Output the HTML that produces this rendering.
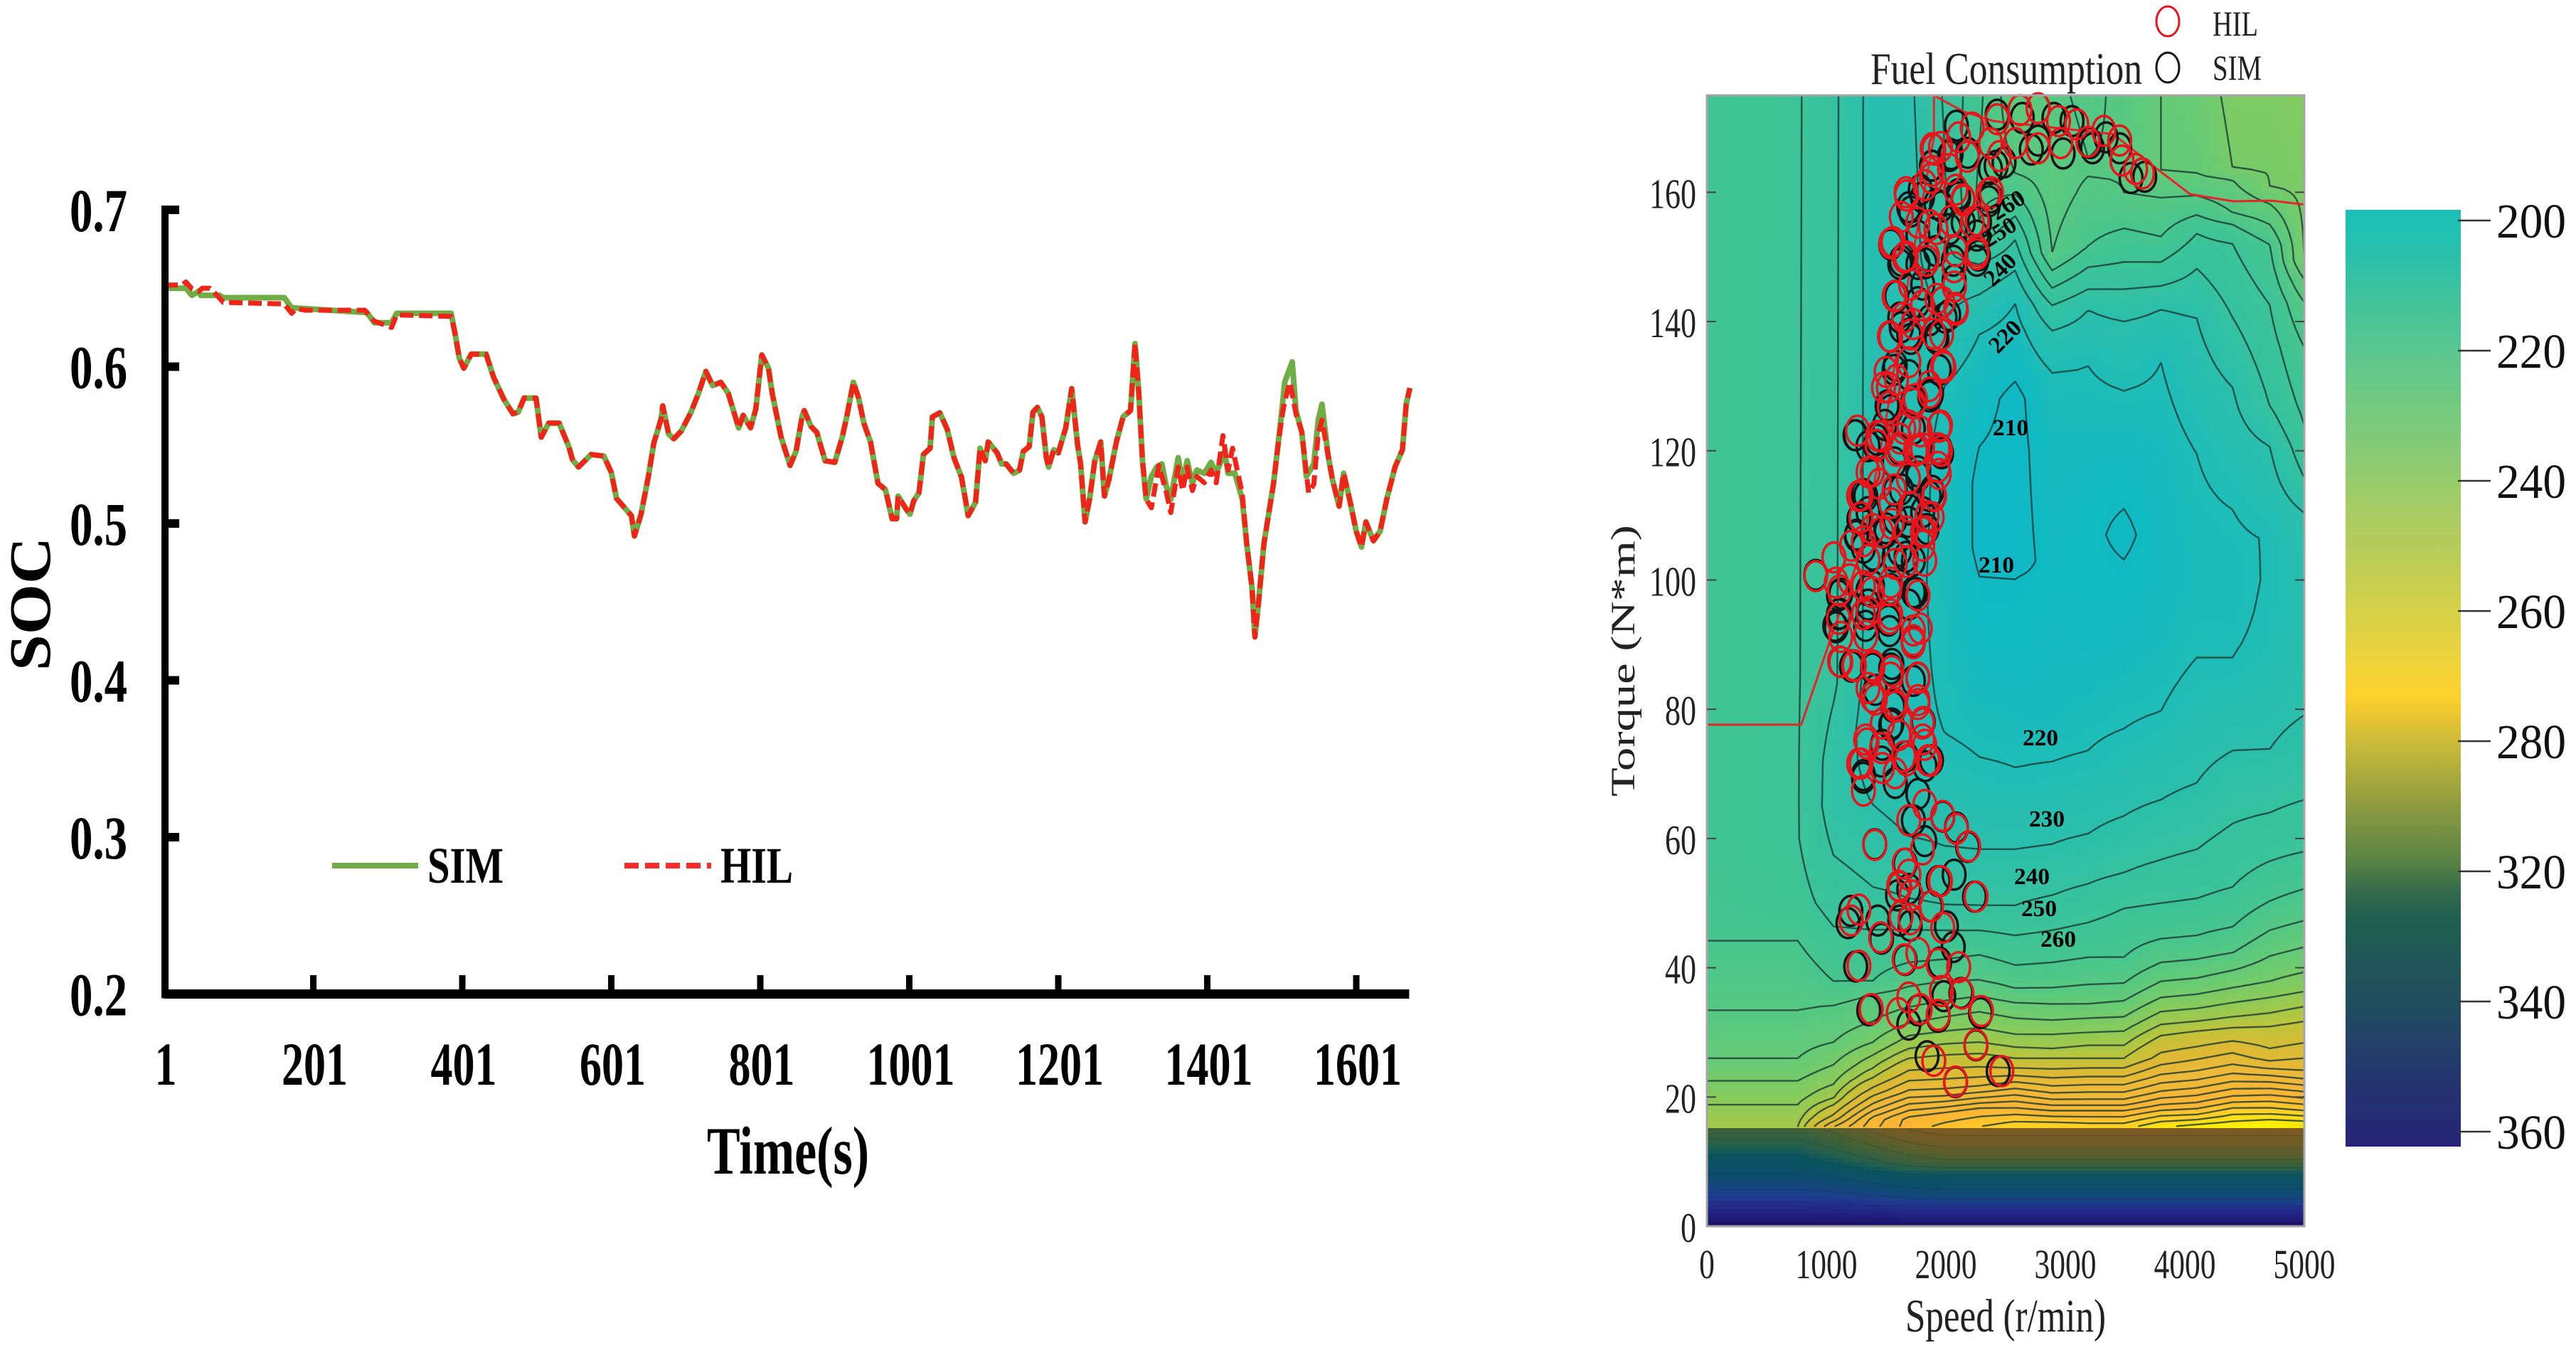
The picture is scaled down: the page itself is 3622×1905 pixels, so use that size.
<!DOCTYPE html>
<html lang="en">
<head>
<meta charset="utf-8">
<title>SOC and Fuel Consumption comparison</title>
<style>
html,body{margin:0;padding:0;background:#fff;}
svg{display:block;}
text{font-family:"Liberation Serif",serif;}
</style>
</head>
<body>
<svg id="root" xmlns="http://www.w3.org/2000/svg" width="3622" height="1905" viewBox="0 0 3622 1905">
  <rect x="0" y="0" width="3622" height="1905" fill="#ffffff"/>
  <defs>
    <clipPath id="plotClip"><rect x="2400" y="134" width="840" height="1590"/></clipPath>
    <linearGradient id="barGradient" gradientUnits="userSpaceOnUse" x1="0" y1="295" x2="0" y2="1612">
      <stop offset="0" stop-color="#1ABFB8"/><stop offset="0.055" stop-color="#2CC0AA"/>
      <stop offset="0.089" stop-color="#3EC39D"/><stop offset="0.140" stop-color="#55C592"/>
      <stop offset="0.190" stop-color="#6CC985"/><stop offset="0.259" stop-color="#88CB74"/>
      <stop offset="0.326" stop-color="#A9CC62"/><stop offset="0.380" stop-color="#BFCD55"/>
      <stop offset="0.459" stop-color="#E3D341"/><stop offset="0.498" stop-color="#F5D336"/>
      <stop offset="0.517" stop-color="#FFD22E"/><stop offset="0.537" stop-color="#EDC830"/>
      <stop offset="0.575" stop-color="#C4B83A"/><stop offset="0.634" stop-color="#8F9C40"/>
      <stop offset="0.692" stop-color="#5C8545"/><stop offset="0.730" stop-color="#33694C"/>
      <stop offset="0.758" stop-color="#1F5E50"/><stop offset="0.847" stop-color="#204E5E"/>
      <stop offset="0.906" stop-color="#233B6B"/><stop offset="1" stop-color="#262478"/>
    </linearGradient>
  </defs>

  <g id="socChart">
    <g id="socLines"></g>
    <g id="socAxes"></g>
    <text x="0" y="0" transform="translate(70,849) rotate(-90)" text-anchor="middle" font-size="83" font-weight="bold" textLength="188" lengthAdjust="spacingAndGlyphs">SOC</text>
    <text x="1108" y="1650" text-anchor="middle" font-size="95" font-weight="bold" textLength="228" lengthAdjust="spacingAndGlyphs">Time(s)</text>
    <line x1="467" y1="1217" x2="588" y2="1217" stroke="#70AD47" stroke-width="8"/>
    <text x="601" y="1241" font-size="72" font-weight="bold" textLength="107" lengthAdjust="spacingAndGlyphs">SIM</text>
    <line x1="878" y1="1217" x2="1000" y2="1217" stroke="#FF2A2A" stroke-width="8" stroke-dasharray="20 9"/>
    <text x="1013" y="1241" font-size="72" font-weight="bold" textLength="102" lengthAdjust="spacingAndGlyphs">HIL</text>
  </g>

  <g id="fuelChart">
    <g id="heatCells" shape-rendering="crispEdges" clip-path="url(#plotClip)"></g>
    <g id="contours" clip-path="url(#plotClip)" fill="none"></g>
    <path id="torqueLimit" fill="none" stroke="#E5252A" stroke-width="3" clip-path="url(#plotClip)"/>
    <g id="simPoints" fill="none" stroke="#141414" stroke-width="3.5"></g>
    <g id="hilPoints" fill="none" stroke="#E8141C" stroke-width="3.5"></g>
    <g id="contourLabels" font-size="33" font-weight="bold" fill="#000" text-anchor="middle">
      <text x="2827" y="612" textLength="50" lengthAdjust="spacingAndGlyphs">210</text>
      <text x="2807" y="805" textLength="50" lengthAdjust="spacingAndGlyphs">210</text>
      <text x="2869" y="1048" textLength="50" lengthAdjust="spacingAndGlyphs">220</text>
      <text x="2878" y="1162" textLength="50" lengthAdjust="spacingAndGlyphs">230</text>
      <text x="2857" y="1243" textLength="50" lengthAdjust="spacingAndGlyphs">240</text>
      <text x="2867" y="1288" textLength="50" lengthAdjust="spacingAndGlyphs">250</text>
      <text x="2894" y="1331" textLength="50" lengthAdjust="spacingAndGlyphs">260</text>
      <text transform="translate(2819,473) rotate(-45)" y="11" textLength="50" lengthAdjust="spacingAndGlyphs">220</text>
      <text transform="translate(2812,379) rotate(-45)" y="11" textLength="50" lengthAdjust="spacingAndGlyphs">240</text>
      <text transform="translate(2811,326) rotate(-32)" y="11" textLength="50" lengthAdjust="spacingAndGlyphs">250</text>
      <text transform="translate(2823,288) rotate(-32)" y="11" textLength="50" lengthAdjust="spacingAndGlyphs">260</text>
    </g>
    <rect x="2400" y="134" width="840" height="1590" fill="none" stroke="#A6A6A6" stroke-width="3"/>
    <g id="fuelAxes"></g>
    <text x="2820" y="1872" text-anchor="middle" font-size="66" fill="#222" textLength="282" lengthAdjust="spacingAndGlyphs">Speed (r/min)</text>
    <text transform="translate(2298,929) rotate(-90)" text-anchor="middle" font-size="48" fill="#222" textLength="382" lengthAdjust="spacingAndGlyphs">Torque (N*m)</text>
    <text x="2630" y="118" font-size="64" fill="#222" textLength="382" lengthAdjust="spacingAndGlyphs">Fuel Consumption</text>
    <ellipse cx="3048" cy="30" rx="16" ry="21" fill="none" stroke="#E8141C" stroke-width="3"/>
    <text x="3111" y="50" font-size="50" fill="#222" textLength="64" lengthAdjust="spacingAndGlyphs">HIL</text>
    <ellipse cx="3048" cy="95" rx="16" ry="21" fill="none" stroke="#141414" stroke-width="3"/>
    <text x="3111" y="112" font-size="50" fill="#222" textLength="69" lengthAdjust="spacingAndGlyphs">SIM</text>
    <rect x="3298" y="295" width="162" height="1317" fill="url(#barGradient)"/>
    <g id="barAxis"></g>
  </g>
</svg>

<script>
// ---------- SOC chart data ----------
const socTickValues = [0.7, 0.6, 0.5, 0.4, 0.3, 0.2];
const socTickLabels = ["0.7", "0.6", "0.5", "0.4", "0.3", "0.2"];
const timeTickValues = [1, 201, 401, 601, 801, 1001, 1201, 1401, 1601];

const simTime = [
  1,30,38,47,50,75,80,162,172,273,
  283,306,313,386,391,397,403,413,433,443,
  457,469,476,484,500,507,517,531,544,549,
  557,574,591,601,608,628,632,641,651,658,
  668,670,678,685,695,708,718,728,737,748,
  758,772,778,788,795,803,812,817,829,841,
  849,857,860,869,877,888,901,911,917,926,
  933,940,949,959,969,978,984,986,997,1002,
  1007,1014,1020,1029,1032,1042,1052,1061,1071,1077,
  1080,1090,1096,1103,1107,1119,1125,1131,1141,1149,
  1154,1162,1167,1173,1179,1185,1188,1195,1201,1211,
  1219,1227,1231,1237,1243,1250,1258,1263,1269,1279,
  1288,1298,1304,1309,1314,1319,1326,1333,1340,1346,
  1352,1362,1368,1374,1381,1387,1397,1406,1413,1424,
  1429,1438,1448,1454,1461,1465,1470,1477,1483,1490,
  1496,1502,1505,1515,1520,1528,1534,1544,1550,1555,
  1563,1569,1578,1584,1592,1601,1608,1614,1624,1633,
  1642,1653,1663,1668,1673];
const simSoc = [
  .650,.650,.6455,.648,.6455,.6455,.644,.644,.6375,.6345,
  .628,.628,.634,.634,.622,.6055,.599,.608,.608,.5933,
  .579,.570,.571,.580,.580,.555,.564,.564,.549,.5407,
  .536,.544,.543,.5326,.516,.505,.492,.506,.5305,.551,
  .567,.575,.557,.554,.559,.571,.583,.597,.588,.590,
  .583,.561,.569,.561,.573,.6075,.599,.583,.555,.537,
  .546,.568,.572,.562,.558,.540,.539,.555,.568,.590,
  .580,.564,.552,.5256,.5216,.503,.503,.5175,.509,.506,
  .5145,.5196,.544,.548,.568,.5706,.560,.5418,.5297,.5135,
  .505,.5135,.548,.540,.552,.545,.538,.538,.532,.534,
  .546,.549,.571,.574,.568,.542,.536,.547,.545,.561,
  .586,.550,.538,.501,.5155,.540,.552,.5175,.528,.552,
  .568,.572,.6147,.584,.540,.5155,.530,.536,.538,.5236,
  .5155,.542,.5256,.540,.5256,.534,.532,.539,.532,.546,
  .532,.532,.5155,.487,.459,.428,.4507,.487,.505,.5256,
  .550,.576,.590,.603,.572,.558,.530,.538,.566,.576,
  .544,.528,.511,.532,.5155,.495,.485,.501,.489,.495,
  .5155,.536,.547,.576,.5864];

const hilTime = [
  1,25,30,38,47,52,62,72,80,162,
  172,178,190,270,283,306,313,386,391,397,
  403,413,433,443,457,469,476,484,500,507,
  517,531,544,549,557,574,591,601,608,628,
  632,641,651,658,668,670,678,685,695,708,
  718,728,737,748,758,772,778,788,795,803,
  812,817,829,841,849,857,860,869,877,888,
  901,911,917,926,933,940,949,959,969,978,
  984,986,997,1002,1007,1014,1020,1029,1032,1042,
  1052,1061,1071,1077,1080,1090,1096,1103,1107,1119,
  1125,1131,1141,1149,1154,1162,1167,1173,1179,1185,
  1188,1195,1201,1211,1219,1227,1231,1237,1243,1250,
  1258,1263,1269,1279,1288,1298,1304,1309,1314,1319,
  1326,1336,1346,1352,1362,1368,1374,1381,1387,1397,
  1406,1413,1422,1429,1435,1448,1454,1461,1465,1470,
  1477,1483,1490,1496,1502,1505,1512,1520,1528,1537,
  1544,1550,1555,1563,1569,1578,1584,1592,1601,1608,
  1614,1624,1633,1642,1653,1663,1668,1673];
const hilSoc = [
  .652,.652,.654,.6496,.648,.650,.650,.6455,.641,.640,
  .634,.637,.636,.636,.629,.625,.633,.632,.622,.6055,
  .599,.608,.608,.5933,.579,.570,.571,.580,.580,.555,
  .564,.564,.549,.5407,.536,.544,.543,.5326,.516,.505,
  .492,.506,.5305,.551,.567,.575,.557,.554,.559,.571,
  .583,.597,.588,.590,.583,.561,.569,.561,.573,.6075,
  .599,.583,.555,.537,.546,.568,.572,.562,.558,.540,
  .539,.555,.568,.590,.580,.564,.552,.5256,.5216,.503,
  .503,.5175,.509,.506,.5145,.5196,.544,.548,.568,.5706,
  .560,.5418,.5297,.5135,.505,.5135,.548,.540,.552,.545,
  .538,.538,.532,.534,.546,.549,.571,.574,.568,.542,
  .536,.547,.545,.561,.586,.550,.538,.501,.5155,.540,
  .552,.5175,.528,.552,.568,.572,.6147,.584,.540,.5155,
  .510,.537,.520,.507,.536,.521,.536,.521,.530,.526,
  .534,.526,.556,.534,.548,.519,.487,.459,.4275,.4507,
  .487,.505,.5256,.550,.570,.578,.590,.570,.558,.5196,
  .525,.558,.566,.544,.528,.511,.532,.5155,.495,.485,
  .501,.489,.495,.5155,.536,.547,.576,.5864];

// ---------- Fuel map data: [torque, fuel, torque, fuel, ...] at each speed column ----------
const mapSpeeds = [0,760,1060,1390,1690,1990,2280,2580,2890,3190,3490,3800,4100,4400,4710,5000];
const fuelAt0 = [0,800,3,760,5,730,8,690,10,670,15.25,610,15.4,310,18.8,300,22.5,290,26,280,33.4,270,44.2,260,46,258,60,255,175,255];
const fuelAt760 = [0,800,3,760,5,730,8,690,10,670,15.25,610,15.4,310,18.8,300,22.5,290,26,280,33.4,270,44.2,260,46,258,50,254,60,250.5,175,251];
const fuelAt1060 = [0,800,3,758,5,725,8,680,10,655,15.25,590,15.4,365,16.8,340,18.8,320,19.8,310,22,300,25,290,28.5,280,34.2,270,37.9,260,46.4,250,50,246,57.4,240,65,235,72,235.5,84,241.5,175,242];
const fuelAt1390 = [0,800,3,755,5,715,8,670,10,635,15.25,560,15.4,405,16.6,400,18.6,370,21,340,23,320,24.5,310,26.5,300,28.5,290,31.7,280,35.9,270,38,260,45.9,250,52.5,240,65.2,230,77,224,90,226,175,226];
const fuelAt1690 = [0,800,3,750,5,705,8,660,10,615,15.25,535,15.4,432,16.6,430,18.6,400,20.6,370,23.5,340,26,320,27.5,310,29.5,300,31.4,290,33.9,280,37.1,270,40.8,260,45.9,250,50.7,240,60.3,230,70,223,75,221,100,222,130,224,150,226,175,228];
const fuelAt1990 = [0,800,3,750,5,700,8,660,10,605,15.25,520,15.4,445,17.3,430,19,400,20.8,370,23.8,340,26.5,320,28.2,310,30.2,300,32.4,290,34.9,280,37.9,270,41.3,260,45.8,250,49.7,240,58.8,230,76.3,220,100,218,120,218,130,220,140.6,230,150,238,175,241];
const fuelAt2280 = [0,800,3,750,5,700,8,660,10,605,15.25,520,15.4,455,18,430,19.6,400,21.3,370,24,340,26.7,320,28.5,310,30.7,300,33.2,290,35.6,280,38.1,270,42,260,45.8,250,49.6,240,58.3,230,72.6,220,90,212,100.6,210,105,208,115,208,120.7,210,130,215,138,220,144.2,230,148.9,240,151.4,250,155.3,260,160,262,175,258];
const fuelAt2580 = [0,800,3,750,5,700,8,660,10,605,15.25,520,15.4,465,15.8,460,16.6,450,18,430,20,400,22,370,24,340,26,320,27.7,310,29.7,300,32.2,290,34.6,280,36.8,270,40.4,260,45,250,49.6,240,58.3,230,71,220,85,213,100.3,210,103,207,128,207,130.7,210,142.8,220,147.9,230,152.6,240,156.3,250,159.7,260,162.9,270,175,278];
const fuelAt2890 = [0,800,3,750,5,700,8,660,10,605,15.25,520,15.4,465,15.8,460,17.6,430,19.3,400,21.3,370,23.8,340,26,320,27.5,310,29.7,300,31.9,290,34.4,280,36.9,270,40.8,260,45.8,250,51.2,240,59.1,230,71.9,220,80,215,100,212,120,215,132.1,220,138.6,230,142.5,240,145.2,250,147.9,260,150.6,270,160,275,175,272];
const fuelAt3190 = [0,800,3,750,5,700,8,660,10,605,15.25,520,15.4,465,15.6,460,17.6,430,19.3,400,21.5,370,24,340,26,320,28,310,30,300,32.2,290,34.4,280,37.4,270,41.6,260,47,250,53,240,60.7,230,73.6,220,90,213,100,212,112,212,120,215,133.2,220,141.8,230,145,240,148.4,250,151.6,260,163,270.5,175,268];
const fuelAt3490 = [0,800,3,750,5,700,8,660,10,605,15.25,520,15.4,465,15.6,460,17.6,430,19.3,400,21.5,370,24,340,26,320,28,310,30.2,300,32.4,290,34.9,280,37.6,270,41.6,260,49.2,250,54.7,240,63.5,230,77,220,90,214,103.2,210,107,208,111,210,120,214,129.3,220,140,230,145,240,149.2,250,154.4,260,160,270,175,272];
const fuelAt3800 = [0,800,3,750,5,700,8,660,10,605,15.25,520,15.4,482,15.6,480,16.8,460,18.5,430,20.5,400,23,370,26,340,29.5,320,31.2,310,33.2,300,35.4,290,37.9,280,40.8,270,44.5,260,50,250,56.7,240,66,230,79.7,220,90,216,100,214,110,214,120,216,133.7,220,141.9,230,145.5,240,149.2,250,153.1,260,159.2,270,163.4,280,175,280];
const fuelAt4100 = [0,800,3,750,5,700,8,660,10,605,15.25,520,15.4,492,17,460,18.8,430,21,400,23.5,370,27,340,30.2,320,31.7,310,33.7,300,35.9,290,38.4,280,41.3,270,45,260,50.7,250,58.3,240,68.6,230,88,220,100,217,110,218,119.5,220,140.5,230,148.2,240,153.6,250,156.5,260,159.5,270,162.9,280,175,284];
const fuelAt4400 = [0,800,3,750,5,700,8,660,10,605,15.25,520,15.4,497,18,460,19.8,430,22,400,24.5,370,28,340,30.7,320,32.4,310,34.6,300,36.9,290,39.6,280,42.3,270,46.3,260,52.5,250,62.3,240,73.6,230,88,220,95,218,100,217,110.9,220,129.8,230,140.6,240,152,250,155,260,156.8,270,161.9,280,163.6,290,175,293];
const fuelAt4710 = [0,800,3,750,5,700,8,660,10,605,15.25,520,15.4,502,16.2,490,18,460,20,430,22,400,24,370,26.4,340,30.9,320,33,310,35.4,300,37.9,290,41.8,280,45.8,270,50.3,260,56.5,250,64,240,73.8,230,90,222,100,221,106.5,220.5,120.7,230,127,240,142.6,250,151.9,260,155,270,158.2,280,161,290,175,293];
const fuelAt5000 = [0,800,3,750,5,700,8,660,10,605,15.25,520,15.4,505,16,490,17.6,460,19.5,430,21.5,400,23.5,370,27.3,340,31.7,320,34,310,36.3,300,39.3,290,43.2,280,47.3,270,52.2,260,58,250,66,240,79.1,230,95,226,110.4,230,115.8,240,123.9,250,136,260,143,270,146.5,280,149.4,290,175,296];
const fuelColumns = [fuelAt0,fuelAt760,fuelAt1060,fuelAt1390,fuelAt1690,fuelAt1990,fuelAt2280,fuelAt2580,fuelAt2890,fuelAt3190,fuelAt3490,fuelAt3800,fuelAt4100,fuelAt4400,fuelAt4710,fuelAt5000];

const contourLevels = [210,220,230,240,250,260,270,280,290,300,310,320,335,350,365,380,395,410,425,440,455,470,485];
const stripeLevels = [540,570,600,630,660,690,720,750,780];

const paletteFuel = [205,212,220,230,240,255,265,275,285,300,320,340,370,430,460,480,500,520,560,600,640,660,700,730,750,780,800];
const paletteColor = ["#0FB8C8","#12BAC2","#1FBDB7","#2BBFAB","#35C2A0","#40C493","#4FC788","#5CC97D","#6CCB70","#8CCB58","#BFC43A","#DDB934","#EDB938","#FBB533","#FFCE28","#FFE015","#FFF400","#7E5A22","#705C28","#4C6030","#26604A","#0A5560","#0F4A72","#1B3F8C","#22308C","#211C7E","#1A0F60"];

const torqueLimitSpeed = [0,790,1000,1300,1500,1700,1900,1900,2145,2400,2900,3400,3740,4044,4404,4727,5000];
const torqueLimitValue = [77.6,77.6,89,105,125,148,168.5,175,172.5,171,170,169,164,159.7,158.6,158.7,158.1];

const simSpeed = [1204,1181,1431,1462,1614,1701,1595,1690,1872,2005,2062,1948,1659,1245,1355,1766,1690,1936,1982,2126,2290,2252,1842,2081,2438,2240,2069,1936,
  1405,2183,2088,1974,1728,1823,1659,1310,1576,1766,1880,1462,1538,1811,1386,1728,1766,1557,1386,1215,1538,1082,1101,1120,911,1348,1519,1690,1728,1386,1538,1310,1614,1728,1253,1500,1842,1272,1576,1690,1860,1310,1576,1766,1386,1348,1614,1955,
  1245,1424,1728,1728,1880,1538,1690,1974,1576,1917,1690,1993,1614,1766,1576,2069,1766,1538,1614,1917,2031,1766,1690,1917,2259,2259,2145,2107,2373,1804,1880,2031,2373,2183,2487,2088,2430,2639,2772,2905,3056,2772,2981,2715,3208,3341,3455,3550,3664,3227,
  1240,1488,1409,1964,1567,1766,1329,1885,1627,1706,1349,1806,1250,1498,1687,1389,1567,1667,1508,1726,1865,1567,1944,
  1101,1349,1528,1746,1071,1111,1329,1528,1349,1726,1210,1389,1548,1766,1409,1567,1806,1548,1468,1667,1825,1310,
  2044,1885,2421,1786,2103,2361,1706,1964,2282,1538,1627,1825,2063,2272,1806,1587,2024,1627,1865,1925,1706];
const simTorque = [48.8,46.9,47.3,44.5,47.3,46.5,51.2,52.2,49.5,46.4,43.2,40.8,41.2,40.2,33.4,33.4,31.2,32.4,35.6,36.1,33,28,26.3,22.3,24,51,54.4,53.4,
  59.1,58.7,61.7,63.4,62.8,59.6,56.1,69.4,68.6,66.9,72.1,71.9,77.5,78,81.9,84.4,84.9,80.4,86.3,86.8,86.3,92.7,94.7,97.9,100.8,94.7,93.7,96.2,98.1,99.1,98.6,105,104.5,103,107,107.4,107.9,109.4,109.4,110.9,113,113.3,113.8,116.8,116.8,120.7,120.2,120.2,
  122.4,121.7,123.4,127.8,128.8,126.3,131.7,133.2,133.2,137.6,138.1,140.6,140.6,143,144,146.4,148.9,151.9,148.9,150.9,154.3,153.3,157.7,158.2,153.3,149.4,155.3,159.2,159.2,159.2,164.1,165.6,163.6,166.1,164.6,170.3,172,171.5,173,171.5,171,168,166,166.6,167.6,168.5,166.8,162.2,162.4,166.8,
  122.4,124,120.8,119.6,118.2,116,113,113.8,114,111.3,110.5,110.5,106.8,108,109,103.9,103.6,103.6,127,127.8,128.4,132.5,132.5,
  97.6,98.4,98.4,98,92.9,94.8,92.9,92.1,96.2,90.3,86.6,86.6,87,84.8,83,80.8,77.8,77.8,74.5,72.7,71.2,69.8,
  165.9,164.1,164.1,160.4,159.7,158.6,157,157.8,155.3,152,149.4,149,149.4,150.2,145.7,143.9,141,139.1,140.2,137.3,137.3];
const hilSpeed = [1272,1207,1454,1625,1701,1766,1880,1709,1606,1974,2107,1936,1652,1272,1375,1602,1690,1785,1936,1963,2134,2297,2252,1899,2081,2468,2252,1948,1690,
  1405,2190,2088,1974,1690,1804,1652,1955,1614,1310,1291,1576,1823,1849,1671,1462,1329,1823,1804,1576,1386,1766,1766,1120,1234,1386,1538,1728,1728,1120,1082,1063,1196,1386,1538,1766,1538,1310,1823,1576,1310,1462,1804,1842,1291,1538,1899,1386,1936,1766,1955,1614,1462,
  1261,1424,1690,1955,1614,1804,1728,1974,1861,1519,1500,1690,1538,1899,1728,1974,1576,2088,1804,1538,1652,1842,2069,1766,1671,1917,2259,2221,2145,2354,1880,2031,1899,2107,2449,2221,2430,2620,2772,2943,3095,2772,2962,2582,3190,3322,3455,3474,3645,3588,1955,2373,
  1478,1587,1746,1865,1984,1528,1647,1786,1944,1429,1935,1587,1746,1944,1349,1442,1687,1270,1905,1567,1706,1290,1548,1825,1885,1389,1210,1667,1062,1349,1667,1806,
  911,1111,1310,1528,1766,1101,1349,1528,1786,1726,1329,1111,1230,1389,1548,1766,1349,1409,1567,1766,1468,1806,1806,1339,1607,1865,1270,1647,1468,
  1885,2180,1885,1667,1825,2083,2381,1627,2143,2262,2044,1865,1558,1667,1845,2083,2262,1706,2071,1567,1925,2083,1647,1964,1528,1706];
const hilTorque = [49,47.3,44.7,48,47.5,42.3,49.5,51.2,52.7,46.2,40.1,40.6,41.3,40.3,33.6,33,35.4,33.6,32.7,36.4,36,33.3,28.1,25.6,22.4,24,51,53.4,54.4,
  59,58.8,61.5,63.5,62.8,58.3,56.1,53.4,52.5,67.4,71.6,70.1,65.2,72.1,72.1,74,75.3,74.5,78,80.4,81.9,81.4,84.9,87.3,86.8,86.8,84.9,90.2,92.2,91.2,99.6,103.5,100.1,98.1,99.6,97.6,94.7,94.7,103,102.5,106,107.4,107.4,109.9,113.1,111.9,113.1,116.8,117.5,120.2,120,120.5,122.2,
  123.1,120.9,123.9,123.9,121.9,120.4,127.3,133.2,130,129.8,132.2,133.7,137.6,138.1,139.6,143,144,141.8,142.5,152.1,149.9,149.4,148.4,155.3,159.5,154.3,150.4,155.3,158.7,159.7,162.2,163.6,166.6,168.5,165.6,170,171.3,172.7,173,171,170.5,166.8,167.6,167.6,167.8,169.5,168,164.9,162.9,163.6,167,167.6,
  129.8,131,128,129,132.9,126.8,123.4,123,123.7,122.3,120.4,120,120,116.4,116.7,114.9,115.7,113,113,114,111.3,109.7,108.7,107.5,109.7,107.9,105.3,107.5,103.5,103.1,102.8,105.3,
  100.6,98.4,99.1,98.4,97.6,94,95.1,94,92.5,90.7,91.4,87.4,86.7,86.6,85.9,84.8,83.3,81.5,81,80.8,77.8,77.8,75.3,74.7,76,72,71.6,72.7,70.9,
  166.8,165.5,163.3,160,161.1,160.4,160,156.2,158.9,155.7,155.6,154.9,152.3,150.1,150.1,150.9,150.9,145.7,145.4,143.9,143.5,142.1,140.6,138,137.7,138];

const speedTickValues = [0,1000,2000,3000,4000,5000];
const torqueTickValues = [0,20,40,60,80,100,120,140,160];
const colorbarLabels = ["200","220","240","260","280","320","340","360"];

// ---------- scales ----------
const NS = "http://www.w3.org/2000/svg";
function xTime(t){ return 231 + (t - 1) * 1.0475; }
function ySoc(v){ return 295 + (0.7 - v) * 2205; }
function xSpeed(s){ return 2400 + s * 840 / 5000; }
function yTorque(t){ return 1724 - t * 1590 / 175; }
function make(tag, parent){ const el = document.createElementNS(NS, tag); parent.appendChild(el); return el; }
function linePath(xs, ys, fx, fy){
  let d = "";
  for (let i = 0; i < xs.length; i++) d += (i ? "L" : "M") + fx(xs[i]).toFixed(1) + " " + fy(ys[i]).toFixed(1);
  return d;
}
function hexToRgb(h){ return [parseInt(h.slice(1,3),16),parseInt(h.slice(3,5),16),parseInt(h.slice(5,7),16)]; }
const paletteRgb = paletteColor.map(hexToRgb);
function colorFor(z){
  if (z <= paletteFuel[0]) return paletteColor[0];
  for (let i = 1; i < paletteFuel.length; i++) {
    if (z <= paletteFuel[i]) {
      const f = (z - paletteFuel[i-1]) / (paletteFuel[i] - paletteFuel[i-1]);
      const a = paletteRgb[i-1], b = paletteRgb[i];
      return "rgb(" + Math.round(a[0]+(b[0]-a[0])*f) + "," + Math.round(a[1]+(b[1]-a[1])*f) + "," + Math.round(a[2]+(b[2]-a[2])*f) + ")";
    }
  }
  return paletteColor[paletteColor.length-1];
}
function columnFuel(col, t){
  for (let i = 2; i < col.length; i += 2) {
    if (t <= col[i]) {
      const f = (t - col[i-2]) / (col[i] - col[i-2]);
      return col[i-1] + (col[i+1] - col[i-1]) * f;
    }
  }
  return col[col.length-1];
}
function fuelAt(s, t){
  let i = 0;
  while (i < mapSpeeds.length - 2 && s > mapSpeeds[i+1]) i++;
  const f = (s - mapSpeeds[i]) / (mapSpeeds[i+1] - mapSpeeds[i]);
  return columnFuel(fuelColumns[i], t) * (1 - f) + columnFuel(fuelColumns[i+1], t) * f;
}

// ---------- SOC chart ----------
const socLines = document.getElementById("socLines");
const socAxes = document.getElementById("socAxes");
const simLine = make("path", socLines);


simLine.setAttribute("d", linePath(simTime, simSoc, xTime, ySoc));
simLine.setAttribute("fill", "none");
simLine.setAttribute("stroke", "#70AD47");
simLine.setAttribute("stroke-width", "8");
simLine.setAttribute("stroke-linejoin", "round");
const hilLine = make("path", socLines);


hilLine.setAttribute("d", linePath(hilTime, hilSoc, xTime, ySoc));
hilLine.setAttribute("fill", "none");
hilLine.setAttribute("stroke", "#F02418");
hilLine.setAttribute("stroke-width", "7");
hilLine.setAttribute("stroke-dasharray", "19 8");
hilLine.setAttribute("stroke-linejoin", "round");

const yAxisLine = make("rect", socAxes);


yAxisLine.setAttribute("x", "227");
yAxisLine.setAttribute("y", ySoc(0.7) - 6);
yAxisLine.setAttribute("width", "10");
yAxisLine.setAttribute("height", ySoc(0.2) - ySoc(0.7) + 12);
const xAxisLine = make("rect", socAxes);


xAxisLine.setAttribute("x", "231");
xAxisLine.setAttribute("y", ySoc(0.2) - 6.5);
xAxisLine.setAttribute("width", xTime(1672) - 231);
xAxisLine.setAttribute("height", "13");

socTickValues.forEach(function(v, i){
  const tick = make("rect", socAxes);
  
  
  tick.setAttribute("x", "232");
  tick.setAttribute("y", ySoc(v) - 6);
  tick.setAttribute("width", "20");
  tick.setAttribute("height", "12");
  const label = make("text", socAxes);
  
  
  label.setAttribute("x", "98");
  label.setAttribute("y", ySoc(v) + 30);
  label.setAttribute("font-size", "86");
  label.setAttribute("font-weight", "bold");
  label.setAttribute("textLength", "81");
  label.setAttribute("lengthAdjust", "spacingAndGlyphs");
  label.textContent = socTickLabels[i];
});
timeTickValues.forEach(function(t){
  if (t > 1) {
    const tick = make("rect", socAxes);
    
    
    tick.setAttribute("x", xTime(t) - 4.5);
    tick.setAttribute("y", "1371");
    tick.setAttribute("width", "9");
    tick.setAttribute("height", "22");
  }
  const label = make("text", socAxes);
  const str = String(t);
  
  
  label.setAttribute("x", xTime(t) + 2);
  label.setAttribute("y", "1525");
  label.setAttribute("font-size", "86");
  label.setAttribute("font-weight", "bold");
  label.setAttribute("text-anchor", "middle");
  label.setAttribute("textLength", str.length * 31);
  label.setAttribute("lengthAdjust", "spacingAndGlyphs");
  label.textContent = str;
});

// ---------- heatmap ----------
const heatCells = document.getElementById("heatCells");
const cellW = 12, cellH = 6;
for (let py = 134; py < 1724; py += cellH) {
  for (let px = 2400; px < 3240; px += cellW) {
    const s = (px + cellW / 2 - 2400) * 5000 / 840;
    const t = (1724 - py - cellH / 2) * 175 / 1590;
    const cell = make("rect", heatCells);
    
    
    cell.setAttribute("x", px);
    cell.setAttribute("y", py);
    cell.setAttribute("width", cellW);
    cell.setAttribute("height", cellH);
    cell.setAttribute("fill", colorFor(fuelAt(s, t)));
  }
}

// ---------- contours (marching squares over the speed columns) ----------
const contourGroup = document.getElementById("contours");
const rowStep = 0.5;
const rowCount = Math.round(175 / rowStep);
const gridZ = fuelColumns.map(function(col){
  const out = [];
  for (let r = 0; r <= rowCount; r++) out.push(columnFuel(col, r * rowStep));
  return out;
});
function contourPath(level, minRow, maxRow){
  let d = "";
  for (let c = 0; c < mapSpeeds.length - 1; c++) {
    const s0 = mapSpeeds[c], s1 = mapSpeeds[c+1];
    for (let r = minRow; r < maxRow; r++) {
      const t0 = r * rowStep, t1 = (r + 1) * rowStep;
      const a = gridZ[c][r], b = gridZ[c+1][r], e = gridZ[c+1][r+1], g = gridZ[c][r+1];
      const pts = [];
      if ((a < level) !== (b < level)) pts.push([s0 + (s1 - s0) * (level - a) / (b - a), t0]);
      if ((b < level) !== (e < level)) pts.push([s1, t0 + (t1 - t0) * (level - b) / (e - b)]);
      if ((g < level) !== (e < level)) pts.push([s0 + (s1 - s0) * (level - g) / (e - g), t1]);
      if ((a < level) !== (g < level)) pts.push([s0, t0 + (t1 - t0) * (level - a) / (g - a)]);
      for (let k = 0; k + 1 < pts.length; k += 2) {
        d += "M" + xSpeed(pts[k][0]).toFixed(1) + " " + yTorque(pts[k][1]).toFixed(1) +
             "L" + xSpeed(pts[k+1][0]).toFixed(1) + " " + yTorque(pts[k+1][1]).toFixed(1);
      }
    }
  }
  return d;
}
contourLevels.forEach(function(level){
  const p = make("path", contourGroup);
  
  
  p.setAttribute("d", contourPath(level, 31, rowCount));
  p.setAttribute("stroke", "#1C3A34");
  p.setAttribute("stroke-opacity", "0.8");
  p.setAttribute("stroke-width", "2.4");
  p.setAttribute("stroke-linecap", "round");
});
stripeLevels.forEach(function(level){
  const p = make("path", contourGroup);
  
  
  p.setAttribute("d", contourPath(level, 0, 30));
  p.setAttribute("stroke", "#0C2A30");
  p.setAttribute("stroke-opacity", "0.14");
  p.setAttribute("stroke-width", "2");
});

// ---------- max torque curve and operating points ----------
document.getElementById("torqueLimit").setAttribute("d", linePath(torqueLimitSpeed, torqueLimitValue, xSpeed, yTorque));
const simGroup = document.getElementById("simPoints");
simSpeed.forEach(function(s, i){
  const m = make("ellipse", simGroup);
  
  
  m.setAttribute("cx", xSpeed(s).toFixed(1));
  m.setAttribute("cy", yTorque(simTorque[i]).toFixed(1));
  m.setAttribute("rx", "16");
  m.setAttribute("ry", "21");
});
const hilGroup = document.getElementById("hilPoints");
hilSpeed.forEach(function(s, i){
  const m = make("ellipse", hilGroup);
  
  
  m.setAttribute("cx", xSpeed(s).toFixed(1));
  m.setAttribute("cy", yTorque(hilTorque[i]).toFixed(1));
  m.setAttribute("rx", "16");
  m.setAttribute("ry", "21");
});

// ---------- fuel axes ----------
const fuelAxes = document.getElementById("fuelAxes");
torqueTickValues.forEach(function(t){
  if (t > 0) {
    [[2400, 2413], [3227, 3240]].forEach(function(span){
      const tick = make("line", fuelAxes);
      
      
      tick.setAttribute("x1", span[0]);
      tick.setAttribute("x2", span[1]);
      tick.setAttribute("y1", yTorque(t));
      tick.setAttribute("y2", yTorque(t));
      tick.setAttribute("stroke", "#444");
      tick.setAttribute("stroke-width", "2");
    });
  }
  const label = make("text", fuelAxes);
  const str = String(t);
  
  
  label.setAttribute("x", "2385");
  label.setAttribute("y", yTorque(t) + 22);
  label.setAttribute("font-size", "59");
  label.setAttribute("fill", "#222");
  label.setAttribute("text-anchor", "end");
  label.setAttribute("textLength", str.length * 22);
  label.setAttribute("lengthAdjust", "spacingAndGlyphs");
  label.textContent = str;
});
speedTickValues.forEach(function(s){
  const label = make("text", fuelAxes);
  const str = String(s);
  
  
  label.setAttribute("x", xSpeed(s));
  label.setAttribute("y", "1797");
  label.setAttribute("font-size", "58");
  label.setAttribute("fill", "#222");
  label.setAttribute("text-anchor", "middle");
  label.setAttribute("textLength", str.length * 21.75);
  label.setAttribute("lengthAdjust", "spacingAndGlyphs");
  label.textContent = str;
});

// ---------- colorbar axis ----------
const barAxis = document.getElementById("barAxis");
colorbarLabels.forEach(function(str, i){
  const y = 310 + i * 183;
  const tick = make("line", barAxis);
  
  
  tick.setAttribute("x1", "3456");
  tick.setAttribute("x2", "3502");
  tick.setAttribute("y1", y);
  tick.setAttribute("y2", y);
  tick.setAttribute("stroke", "#333");
  tick.setAttribute("stroke-width", "2.5");
  const label = make("text", barAxis);
  
  
  label.setAttribute("x", "3510");
  label.setAttribute("y", y + 24);
  label.setAttribute("font-size", "69");
  label.setAttribute("fill", "#111");
  label.setAttribute("textLength", "98");
  label.setAttribute("lengthAdjust", "spacingAndGlyphs");
  label.textContent = str;
});
</script>
</body>
</html>
